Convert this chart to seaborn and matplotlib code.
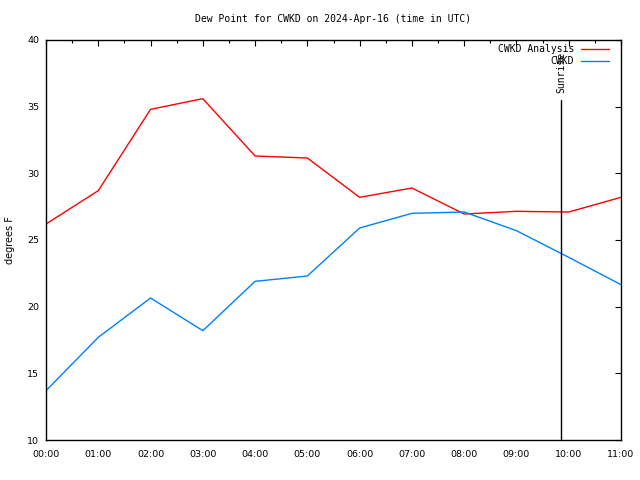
import numpy as np
import pandas as pd
import matplotlib
matplotlib.use("Agg")
import matplotlib.pyplot as plt
import seaborn as sns

hours = [0, 1, 2, 3, 4, 5, 6, 7, 8, 9, 10, 11]
tick_labels = ["00:00", "01:00", "02:00", "03:00", "04:00", "05:00",
               "06:00", "07:00", "08:00", "09:00", "10:00", "11:00"]
analysis = [26.2, 28.7, 34.8, 35.6, 31.3, 31.15, 28.2, 28.9, 26.95, 27.15, 27.1, 28.2]
observed = [13.7, 17.7, 20.65, 18.2, 21.9, 22.3, 25.9, 27.0, 27.1, 25.7, 23.7, 21.65]
sunrise_hour = 9.85
sunrise_top = 35.5

sns.set_style("white")
plt.rcParams["font.family"] = ["DejaVu Sans"]
plt.rcParams.update({"text.color": "black", "axes.labelcolor": "black",
                     "xtick.color": "black", "ytick.color": "black"})

df = pd.DataFrame({
    "hour": hours * 2,
    "value": analysis + observed,
    "series": ["CWKD Analysis"] * len(hours) + ["CWKD"] * len(hours),
})

fig = plt.figure(figsize=(6.4, 4.8), dpi=100)
ax = fig.add_axes([46 / 640, 40 / 480, 575 / 640, 400 / 480])

sns.lineplot(data=df, x="hour", y="value", hue="series",
             palette={"CWKD Analysis": "#ff0000", "CWKD": "#0080ff"},
             linewidth=1.0, ax=ax, legend=True, errorbar=None)

ax.plot([sunrise_hour, sunrise_hour], [10, sunrise_top], color="black", linewidth=1.0)
ax.text(sunrise_hour, sunrise_top + 0.5, "Sunrise", rotation=90, ha="center", va="bottom",
        family="DejaVu Sans Mono", fontsize=7, color="black")

ax.set_xlim(0, 11)
ax.set_ylim(10, 40)
ax.set_xticks(hours)
ax.set_xticklabels(tick_labels, fontsize=6.8)
ax.set_xticks(np.arange(0.5, 11, 1.0), minor=True)
ax.set_yticks([10, 15, 20, 25, 30, 35, 40])
ax.set_yticklabels(["10", "15", "20", "25", "30", "35", "40"], fontsize=6.8)
ax.tick_params(which="both", direction="in", top=True, right=True, length=4, width=0.8)
ax.tick_params(axis="x", pad=7)
ax.tick_params(axis="y", pad=5)
ax.tick_params(which="minor", length=2.5)
for s in ax.spines.values():
    s.set_color("black")
    s.set_linewidth(1.0)

ax.set_xlabel("")
ax.set_ylabel("degrees F", fontsize=7)
ax.yaxis.set_label_coords(-0.054, 0.5)
ax.set_title("Dew Point for CWKD on 2024-Apr-16 (time in UTC)",
             family="DejaVu Sans Mono", fontsize=7, pad=13, color="black")

handles, labels = ax.get_legend_handles_labels()
ax.legend(handles, labels, loc="upper right", markerfirst=False, frameon=False,
          prop={"family": "DejaVu Sans Mono", "size": 7},
          handlelength=2.9, handletextpad=0.7, labelspacing=0.25,
          borderaxespad=0, borderpad=0,
          bbox_to_anchor=(609 / 640, (480 - 44) / 480), bbox_transform=fig.transFigure)

fig.savefig("out.png", dpi=100)
